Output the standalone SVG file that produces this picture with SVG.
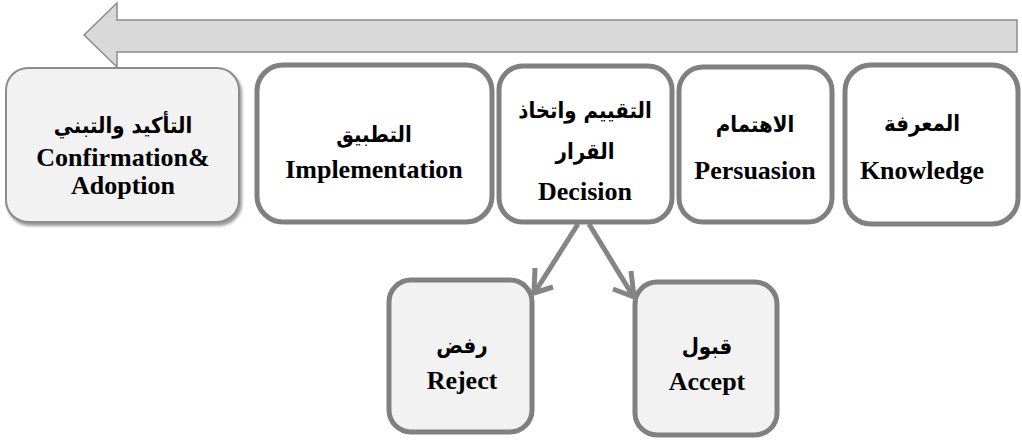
<svg xmlns="http://www.w3.org/2000/svg" width="1022" height="440" viewBox="0 0 1022 440">
<style>
.box{fill:#ffffff;stroke:#808080;stroke-width:5}
.lite{fill:#f2f2f2;stroke:#808080;stroke-width:5}
.en{font-family:"Liberation Serif","Times New Roman",serif;font-weight:bold;font-size:26px;fill:#000;text-anchor:middle}
.ar{font-family:"DejaVu Sans Condensed","DejaVu Sans",sans-serif;font-weight:bold;font-size:22px;fill:#000;text-anchor:middle}
.conn{stroke:#858585;stroke-width:5;fill:none;stroke-linecap:butt}
</style>
<defs>
<filter id="sh" x="-10%" y="-10%" width="130%" height="130%">
<feDropShadow dx="2" dy="3" stdDeviation="1.5" flood-color="#7f7f7f" flood-opacity="0.8"/>
</filter>
</defs>
<g id="timeline">
<polygon points="1017,20 117,20 117,3 84,35 117,67 117,52 1017,52" fill="#d9d9d9" stroke="#8c8c8c" stroke-width="1.5"/>
</g>
<g id="confirmation">
<rect x="6" y="68" width="233" height="154" rx="22" fill="#f2f2f2" stroke="#8c8c8c" stroke-width="2" filter="url(#sh)"/>
<text class="ar" x="123" y="133">التأكيد والتبني</text>
<text class="en" x="123" y="166">Confirmation&amp;</text>
<text class="en" x="123" y="194">Adoption</text>
</g>
<g id="implementation">
<rect class="box" x="257" y="65" width="235" height="157" rx="26"/>
<text class="ar" x="374" y="142">التطبيق</text>
<text class="en" x="374" y="178">Implementation</text>
</g>
<g id="decision">
<rect class="box" x="499" y="66" width="173" height="156" rx="24"/>
<text class="ar" x="585" y="118">التقييم واتخاذ</text>
<text class="ar" x="585" y="159">القرار</text>
<text class="en" x="585" y="200">Decision</text>
</g>
<g id="persuasion">
<rect class="box" x="679" y="67" width="153" height="155" rx="24"/>
<text class="ar" x="755" y="132">الاهتمام</text>
<text class="en" x="755" y="179">Persuasion</text>
</g>
<g id="knowledge">
<rect class="box" x="845" y="65" width="173" height="159" rx="26"/>
<text class="ar" x="922" y="131">المعرفة</text>
<text class="en" x="922" y="179">Knowledge</text>
</g>
<g id="reject">
<rect class="lite" x="389" y="280" width="143" height="152" rx="22"/>
<text class="ar" x="462" y="353">رفض</text>
<text class="en" x="462" y="389">Reject</text>
</g>
<g id="accept">
<rect class="lite" x="635" y="282" width="142" height="153" rx="22"/>
<text class="ar" x="707" y="354">قبول</text>
<text class="en" x="707" y="390">Accept</text>
</g>
<g id="connectors">
<path class="conn" d="M578,224 L535,292"/>
<path class="conn" d="M535,268 L534,293 L553,287"/>
<path class="conn" d="M589,224 L633,296"/>
<path class="conn" d="M631,271 L634,297 L613,289"/>
</g>
</svg>
